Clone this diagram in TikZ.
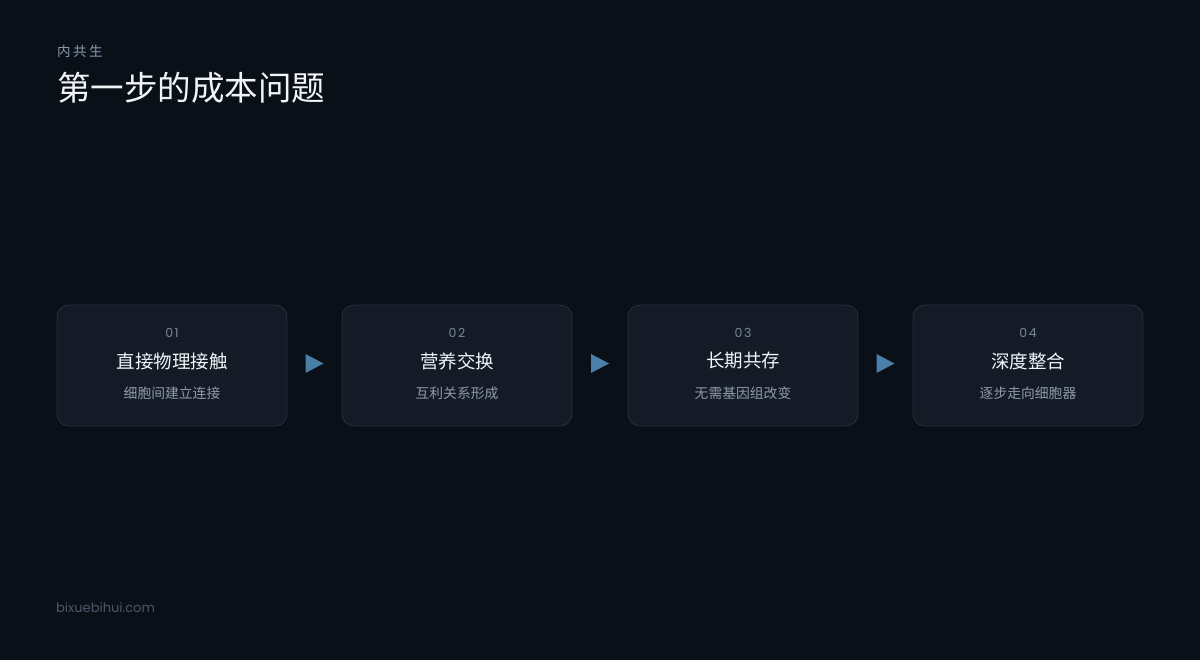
\documentclass[tikz,border=0pt]{standalone}
\usepackage{fontspec}
\newfontfamily\cjk{Noto Sans CJK SC}
\newfontfamily\geo{Poppins}
\newfontfamily\geosp[LetterSpace=12]{Poppins}
\usetikzlibrary{calc}
\definecolor{bgc}{HTML}{0A1018}
\definecolor{boxfill}{HTML}{141B26}
\definecolor{boxline}{HTML}{263040}
\definecolor{arrowc}{HTML}{4A7FA8}
\definecolor{titlec}{HTML}{F2F5F8}
\definecolor{kickc}{HTML}{8A9BB0}
\definecolor{numc}{HTML}{76879A}
\definecolor{descc}{HTML}{8E9AA8}
\definecolor{footc}{HTML}{4C5768}
\tikzset{
  stepbox/.style={draw=boxline, line width=0.8pt, fill=boxfill, rounded corners=12pt,
    minimum width=230pt, minimum height=121pt, inner sep=0pt},
  numtxt/.style={text=numc, font=\geosp\fontsize{12.5}{14}\selectfont, inner sep=0pt},
  headtxt/.style={text=titlec, font=\cjk\fontsize{18.5}{22}\selectfont, inner sep=0pt},
  desctxt/.style={text=descc, font=\cjk\fontsize{13.8}{16}\selectfont, inner sep=0pt},
  tri/.style={fill=arrowc, draw=none}
}
\begin{document}
\begin{tikzpicture}[x=1pt,y=-1pt]
\fill[bgc] (0,0) rectangle (1200,660);
\useasboundingbox (0,0) rectangle (1200,660);
\node[anchor=west, inner sep=0pt, text=kickc, font=\cjk\fontsize{13.5}{16}\selectfont] (kick) at (57,51) {内\hspace{2.5pt}共\hspace{2.5pt}生};
\node[anchor=west, inner sep=0pt, text=titlec, font=\cjk\fontsize{33.5}{40}\selectfont] (title) at (57,88) {第一步的成本问题};
\node[anchor=west, inner sep=0pt, text=footc, font=\geo\fontsize{13}{15}\selectfont] (foot) at (56,608) {bixuebihui.com};

\foreach \i/\x/\n/\h/\d in {1/172/01/直接物理接触/细胞间建立连接, 2/457/02/营养交换/互利关系形成, 3/743/03/长期共存/无需基因组改变, 4/1028/04/深度整合/逐步走向细胞器}{
  \node[stepbox] (b\i) at (\x,365.5) {};
  \node[numtxt] (n\i) at (\x,332.5) {\n};
  \node[headtxt] (h\i) at (\x,361) {\h};
  \node[desctxt] (d\i) at (\x,393) {\d};
}
\foreach \a/\b in {1/2,2/3,3/4}{
  \coordinate (m\a) at ($(b\a.east)!0.5!(b\b.west)$);
  \fill[tri] ($(m\a)+(-9,-11.5)$) -- ($(m\a)+(9,-2)$) -- ($(m\a)+(-9,7.5)$) -- cycle;
}
\end{tikzpicture}
\end{document}
